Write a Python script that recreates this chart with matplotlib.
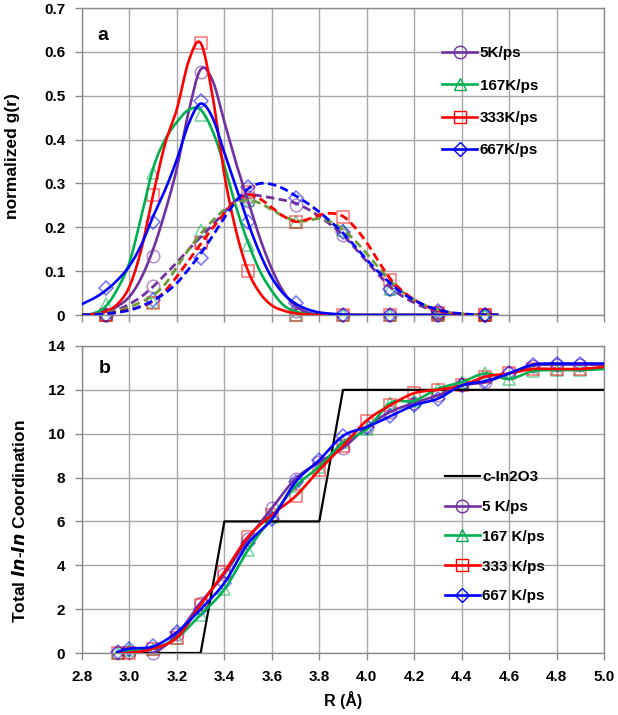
import numpy as np
import matplotlib
matplotlib.use("Agg")
import matplotlib.pyplot as plt
from matplotlib.lines import Line2D

plt.rcParams['font.family'] = ['Liberation Sans Narrow', 'Liberation Sans', 'DejaVu Sans']
plt.rcParams['font.weight'] = 'bold'

# ---- panel a: normalized g(r) ----
r_fine = [2.80, 2.85, 2.90, 2.95, 3.00, 3.05, 3.10, 3.15, 3.20, 3.25, 3.30, 3.35,
          3.40, 3.45, 3.50, 3.55, 3.60, 3.65, 3.70, 3.75, 3.80, 3.85, 3.90, 3.95,
          4.00, 4.05, 4.10, 4.15, 4.20, 4.25, 4.30, 4.35, 4.40, 4.45, 4.50, 4.55]

# first-shell curves (solid)
g1_5 = [0.000, 0.002, 0.008, 0.020, 0.042, 0.085, 0.150, 0.235, 0.335, 0.465, 0.560, 0.535,
        0.440, 0.345, 0.260, 0.175, 0.105, 0.052, 0.020, 0.006, 0.001, 0.000, 0.000, 0.000,
        0.000, 0.000, 0.000, 0.000, 0.000, 0.000, 0.000, 0.000, 0.000, 0.000, 0.000, 0.000]
g1_167 = [0.000, 0.004, 0.020, 0.060, 0.120, 0.225, 0.335, 0.400, 0.440, 0.468, 0.468, 0.420,
          0.340, 0.245, 0.165, 0.100, 0.055, 0.022, 0.008, 0.002, 0.000, 0.000, 0.000, 0.000,
          0.000, 0.000, 0.000, 0.000, 0.000, 0.000, 0.000, 0.000, 0.000, 0.000, 0.000, 0.000]
g1_333 = [0.000, 0.002, 0.008, 0.025, 0.065, 0.150, 0.275, 0.390, 0.470, 0.580, 0.620, 0.500,
          0.320, 0.190, 0.100, 0.050, 0.022, 0.010, 0.004, 0.001, 0.000, 0.000, 0.000, 0.000,
          0.000, 0.000, 0.000, 0.000, 0.000, 0.000, 0.000, 0.000, 0.000, 0.000, 0.000, 0.000]
g1_667 = [0.025, 0.038, 0.056, 0.080, 0.112, 0.160, 0.225, 0.285, 0.355, 0.437, 0.482, 0.450,
          0.370, 0.290, 0.210, 0.140, 0.085, 0.048, 0.026, 0.013, 0.006, 0.003, 0.001, 0.000,
          0.000, 0.000, 0.000, 0.000, 0.000, 0.000, 0.000, 0.000, 0.000, 0.000, 0.000, 0.000]

# second-shell curves (dashed)
g2_5 = [0.000, 0.002, 0.005, 0.012, 0.025, 0.042, 0.065, 0.092, 0.120, 0.150, 0.178, 0.205,
        0.235, 0.262, 0.274, 0.272, 0.267, 0.262, 0.255, 0.242, 0.225, 0.205, 0.182, 0.153,
        0.122, 0.092, 0.063, 0.043, 0.028, 0.016, 0.008, 0.004, 0.002, 0.001, 0.000, 0.000]
g2_167 = [0.000, 0.002, 0.005, 0.010, 0.018, 0.030, 0.045, 0.070, 0.110, 0.150, 0.185, 0.215,
          0.240, 0.256, 0.262, 0.255, 0.240, 0.225, 0.215, 0.215, 0.220, 0.212, 0.195, 0.170,
          0.140, 0.108, 0.078, 0.053, 0.035, 0.021, 0.012, 0.006, 0.003, 0.001, 0.000, 0.000]
g2_333 = [0.000, 0.001, 0.003, 0.007, 0.012, 0.020, 0.032, 0.055, 0.088, 0.125, 0.162, 0.198,
          0.232, 0.262, 0.275, 0.265, 0.245, 0.225, 0.213, 0.218, 0.228, 0.232, 0.225, 0.200,
          0.165, 0.122, 0.082, 0.055, 0.035, 0.020, 0.010, 0.005, 0.002, 0.001, 0.000, 0.000]
g2_667 = [0.000, 0.001, 0.003, 0.006, 0.011, 0.020, 0.033, 0.050, 0.073, 0.105, 0.140, 0.180,
          0.222, 0.260, 0.288, 0.300, 0.298, 0.288, 0.272, 0.255, 0.235, 0.212, 0.187, 0.157,
          0.126, 0.098, 0.072, 0.050, 0.034, 0.021, 0.012, 0.006, 0.003, 0.001, 0.000, 0.000]

# sampled points (markers)
r_pts = [2.9, 3.1, 3.3, 3.5, 3.7, 3.9, 4.1, 4.3, 4.5]
p1_5 = [0.000, 0.135, 0.555, 0.260, 0.010, 0.0, 0.0, 0.0, 0.0]
p1_167 = [0.025, 0.323, 0.457, 0.160, 0.000, 0.0, 0.0, 0.0, 0.0]
p1_333 = [0.000, 0.274, 0.620, 0.100, 0.000, 0.0, 0.0, 0.0, 0.0]
p1_667 = [0.061, 0.211, 0.487, 0.213, 0.027, 0.0, 0.0, 0.0, 0.0]
p2_5 = [0.000, 0.066, 0.165, 0.270, 0.251, 0.182, 0.059, 0.007, 0.0]
p2_167 = [0.000, 0.030, 0.194, 0.262, 0.213, 0.193, 0.060, 0.005, 0.0]
p2_333 = [0.000, 0.027, 0.164, 0.280, 0.213, 0.224, 0.080, 0.005, 0.0]
p2_667 = [0.000, 0.035, 0.130, 0.293, 0.266, 0.190, 0.060, 0.010, 0.0]

# ---- panel b: total In-In coordination ----
r_b = [2.95, 3.0, 3.1, 3.2, 3.3, 3.4, 3.5, 3.6, 3.7, 3.8, 3.9, 4.0, 4.1,
       4.2, 4.3, 4.4, 4.5, 4.6, 4.7, 4.8, 4.9, 5.0]
n_5 = [0.0, 0.05, 0.0, 0.85, 2.3, 3.6, 5.2, 6.6, 7.95, 8.7, 9.35, 10.3, 11.0,
       11.4, 11.75, 12.2, 12.35, 12.75, 13.1, 13.15, 13.15, 13.15]
n_167 = [0.0, 0.15, 0.2, 0.7, 1.75, 2.9, 4.7, 6.2, 7.6, 8.5, 9.6, 10.2, 11.4,
         11.5, 12.05, 12.35, 12.75, 12.5, 12.85, 12.9, 12.9, 12.95]
n_333 = [0.0, 0.0, 0.2, 0.7, 2.2, 3.7, 5.3, 6.3, 7.15, 8.35, 9.45, 10.6, 11.3,
         11.85, 12.0, 12.2, 12.6, 12.75, 12.95, 12.95, 12.95, 13.05]
n_667 = [0.05, 0.2, 0.3, 0.95, 2.0, 3.2, 5.0, 6.1, 7.8, 8.8, 9.9, 10.3, 10.8,
         11.3, 11.6, 12.2, 12.4, 12.75, 13.15, 13.2, 13.2, 13.2]
r_cryst = [2.95, 3.3, 3.4, 3.8, 3.9, 5.0]
n_cryst = [0, 0, 6, 6, 12, 12]

labels_a = ["5K/ps", "167K/ps", "333K/ps", "667K/ps"]
labels_b = ["5 K/ps", "167 K/ps", "333 K/ps", "667 K/ps"]
colors = ["#7030a0", "#00b050", "#ff0000", "#0000ff"]
dash_colors = ["#7030a0", "#6e9a3a", "#ff0000", "#0000ff"]
marks = ["o", "^", "s", "D"]
msizes = [9, 9, 8.5, 7.5]


def smooth(x, y, n=16):
    # Catmull-Rom style smoothing, like a spreadsheet "smoothed line"
    x = np.asarray(x, float)
    y = np.asarray(y, float)
    px = np.r_[2 * x[0] - x[1], x, 2 * x[-1] - x[-2]]
    py = np.r_[2 * y[0] - y[1], y, 2 * y[-1] - y[-2]]
    t = np.linspace(0, 1, n, endpoint=False)[None, :]
    out = []
    for p in (px, py):
        p0, p1, p2, p3 = p[:-3, None], p[1:-2, None], p[2:-1, None], p[3:, None]
        c = 0.5 * (2 * p1 + (p2 - p0) * t + (2 * p0 - 5 * p1 + 4 * p2 - p3) * t ** 2
                   + (-p0 + 3 * p1 - 3 * p2 + p3) * t ** 3)
        out.append(np.r_[c.ravel(), p[-2]])
    return out


def style_axes(ax, ylim, yticks, ylabels):
    ax.set_xlim(2.8, 5.0)
    ax.set_ylim(*ylim)
    ax.set_xticks(np.round(np.arange(2.8, 5.01, 0.2), 1))
    ax.set_yticks(yticks)
    ax.set_yticklabels(ylabels)
    ax.grid(True, color="#a6a6a6", lw=1.0)
    ax.set_axisbelow(True)
    for s in ax.spines.values():
        s.set_color("#8c8c8c")
        s.set_linewidth(1.0)
    ax.tick_params(direction="out", length=5, width=1, color="#8c8c8c",
                   labelsize=11, pad=7)
    for lab in ax.get_xticklabels() + ax.get_yticklabels():
        lab.set_fontweight("bold")


fig = plt.figure(figsize=(6.18, 7.15), dpi=100)
ax1 = fig.add_axes([0.1327, 0.5594, 0.8447, 0.4294])
ax2 = fig.add_axes([0.1327, 0.0867, 0.8447, 0.4294])

# panel a
first = [g1_5, g1_167, g1_333, g1_667]
second = [g2_5, g2_167, g2_333, g2_667]
pts1 = [p1_5, p1_167, p1_333, p1_667]
pts2 = [p2_5, p2_167, p2_333, p2_667]
for i in range(4):
    for pts in (pts1[i], pts2[i]):
        ax1.plot(r_pts, pts, ls="none", marker=marks[i], ms=msizes[i], mfc="none",
                 mec=colors[i], mew=1.1, alpha=0.55, zorder=2, clip_on=False)
for i in range(4):
    sx, sy = smooth(r_fine, first[i])
    ax1.plot(sx, sy, color=colors[i], lw=1.9, zorder=3)
for i in range(4):
    sx, sy = smooth(r_fine, second[i])
    ax1.plot(sx, sy, color=dash_colors[i], lw=2.0, ls=(0, (3, 1.6)), zorder=3)

style_axes(ax1, (0, 0.7), np.round(np.arange(0, 0.71, 0.1), 1),
           ["0", "0.1", "0.2", "0.3", "0.4", "0.5", "0.6", "0.7"])
ax1.tick_params(axis="x", labelbottom=False)
ax1.set_ylabel("normalized g(r)", fontsize=12.5, fontweight="bold",
               family=["Liberation Sans", "DejaVu Sans"])
ax1.yaxis.set_label_coords(-0.119, 0.518)
ax1.text(0.04, 0.912, "a", transform=ax1.transAxes, fontsize=14,
         fontweight="bold", ha="center", va="center")
handles_a = [Line2D([], [], color=colors[i], lw=1.9, marker=marks[i], ms=msizes[i],
                    mfc="none", mec=colors[i], mew=1.0) for i in range(4)]
ax1.legend(handles_a, labels_a, loc="upper left", bbox_to_anchor=(0.69, 0.875),
           frameon=False, borderpad=0, borderaxespad=0, handlelength=2.3,
           handletextpad=0.15, labelspacing=1.2, prop={"size": 11, "weight": "bold"})

# panel b
ax2.plot(r_cryst, n_cryst, color="black", lw=1.6, zorder=3)
coord = [n_5, n_167, n_333, n_667]
for i in range(4):
    ax2.plot(r_b[:-1], coord[i][:-1], ls="none", marker=marks[i], ms=msizes[i],
             mfc="none", mec=colors[i], mew=1.1, alpha=0.55, zorder=2, clip_on=False)
for i in range(4):
    sx, sy = smooth(r_b, coord[i])
    ax2.plot(sx, sy, color=colors[i], lw=1.9, zorder=4)

style_axes(ax2, (0, 14), np.arange(0, 15, 2), [str(v) for v in range(0, 15, 2)])
ax2.set_xticklabels(["%.1f" % v for v in np.arange(2.8, 5.01, 0.2)])
for lab in ax2.get_xticklabels():
    lab.set_fontweight("bold")
ax2.set_ylabel(r"Total $\mathbfit{In}$-$\mathbfit{In}$ Coordination", fontsize=12.5,
               fontweight="bold", family=["Liberation Sans", "DejaVu Sans"])
ax2.yaxis.set_label_coords(-0.103, 0.43)
ax2.set_xlabel("R (Å)", fontsize=11.5, fontweight="bold", labelpad=5)
ax2.text(0.044, 0.928, "b", transform=ax2.transAxes, fontsize=14,
         fontweight="bold", ha="center", va="center")
handles_b = [Line2D([], [], color="black", lw=1.6)]
handles_b += [Line2D([], [], color=colors[i], lw=1.9, marker=marks[i], ms=msizes[i],
                     mfc="none", mec=colors[i], mew=1.0) for i in range(4)]
ax2.legend(handles_b, ["c-In2O3"] + labels_b, loc="upper left",
           bbox_to_anchor=(0.695, 0.595), frameon=False, borderpad=0, borderaxespad=0,
           handlelength=2.3, handletextpad=0.15, labelspacing=1.03,
           prop={"size": 11, "weight": "bold"})

fig.savefig("out.png", dpi=100)
